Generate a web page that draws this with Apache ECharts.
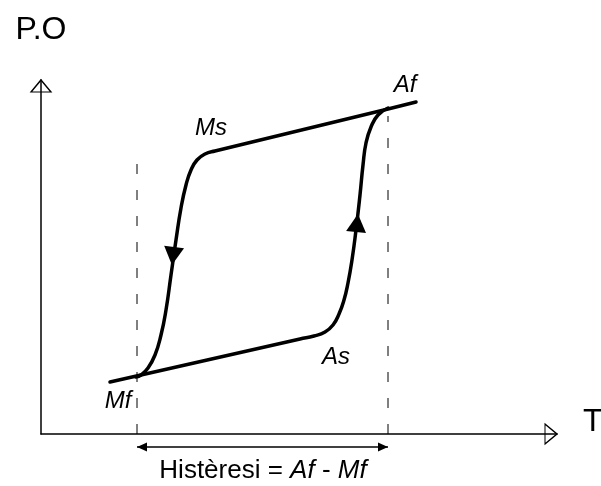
<!DOCTYPE html>
<html>
<head>
<meta charset="utf-8">
<script src="https://cdn.jsdelivr.net/npm/echarts@6/dist/echarts.min.js"></script>
<style>
  html, body { margin: 0; padding: 0; background: #fff; }
  #chart { width: 601px; height: 486px; }
</style>
</head>
<body>
<div id="chart"></div>
<script>
// Heating branch: Mf line -> As -> steep rise -> Af
const heatT  = [69, 259, 273, 284, 292, 298, 303, 307, 311, 315, 319, 322, 325, 330, 337, 347];
const heatPO = [52, 95, 98, 102, 109, 120, 134, 151, 174, 204, 239, 269, 291, 307, 319, 326];

// Cooling branch: beyond Af -> Ms -> steep drop -> Mf
const coolT  = [375, 347, 174, 164, 156, 150, 145, 140, 135, 130, 125, 120, 114, 107, 100, 95];
const coolPO = [332, 325, 283, 280, 274, 264, 249, 226, 194, 159, 124, 99, 79, 66, 59, 57];

// Transformation temperatures marked with dashed guides (Mf, Af)
const guideT   = [96, 347];
const guideTop = [272, 318];

// Point labels
const pointNames = ['Ms', 'Af', 'As', 'Mf'];
const pointT     = [170, 364, 295, 77];
const pointPO    = [306, 349, 77, 33];

// Direction arrows on the two branches (down while cooling, up while heating)
const dirT     = [132, 316];
const dirPO    = [178, 211];
const dirAngle = [173, -6];

// Hysteresis span below the axis
const spanPO = -13;

const FONT = '"Liberation Sans", Arial, sans-serif';
const zip = (a, b) => a.map((v, i) => [v, b[i]]);

const chart = echarts.init(document.getElementById('chart'), null, { renderer: 'canvas' });

const option = {
  animation: false,
  backgroundColor: '#fff',
  grid: { left: 41, top: 80, width: 516, height: 354, containLabel: false, outerBoundsMode: 'none' },
  xAxis: {
    type: 'value', min: 0, max: 516,
    name: 'T', nameLocation: 'end', nameGap: 26,
    nameTextStyle: { fontSize: 32, color: '#000', fontFamily: FONT, align: 'left', verticalAlign: 'bottom', lineHeight: 24 },
    axisLine: { show: true, onZero: false, lineStyle: { color: '#000', width: 1.5 } },
    axisTick: { show: false }, axisLabel: { show: false }, splitLine: { show: false }
  },
  yAxis: {
    type: 'value', min: 0, max: 354,
    name: 'P.O', nameLocation: 'end', nameGap: 38,
    nameTextStyle: { fontSize: 32, color: '#000', fontFamily: FONT, align: 'center', verticalAlign: 'bottom', lineHeight: 24 },
    axisLine: { show: true, onZero: false, lineStyle: { color: '#000', width: 1.5 } },
    axisTick: { show: false }, axisLabel: { show: false }, splitLine: { show: false }
  },
  graphic: [{
    type: 'text', x: 263, y: 471,
    style: {
      text: '{n|Histèresi = }{i|Af}{n| - }{i|Mf}',
      align: 'center', verticalAlign: 'middle',
      rich: {
        n: { fontSize: 26, fontFamily: FONT, fill: '#000' },
        i: { fontSize: 26, fontFamily: FONT, fontStyle: 'italic', fill: '#000' }
      }
    }
  }],
  series: [
    // dashed guides at Mf and Af
    ...guideT.map((t, i) => ({
      type: 'line', clip: false, symbol: 'none', silent: true,
      data: [[t, 0], [t, guideTop[i]]],
      lineStyle: { color: '#000', width: 1, type: [10, 16] },
      z: 1
    })),
    {
      type: 'line', name: 'heating', clip: false, symbol: 'none',
      smooth: 0.5,
      data: zip(heatT, heatPO),
      lineStyle: { color: '#000', width: 3.5, cap: 'round', join: 'round' },
      z: 3
    },
    {
      type: 'line', name: 'cooling', clip: false, symbol: 'none',
      smooth: 0.5,
      data: zip(coolT, coolPO),
      lineStyle: { color: '#000', width: 3.5, cap: 'round', join: 'round' },
      z: 3
    },
    // direction arrowheads
    {
      type: 'scatter', clip: false, symbol: 'triangle', symbolSize: [20, 18],
      data: dirT.map((t, i) => ({ value: [t, dirPO[i]], symbolRotate: dirAngle[i] })),
      itemStyle: { color: '#000', opacity: 1 },
      z: 4
    },
    // hysteresis span: shaft
    {
      type: 'line', clip: false, symbol: 'none', silent: true,
      data: [[guideT[0], spanPO], [guideT[1], spanPO]],
      lineStyle: { color: '#000', width: 1.5 },
      z: 2
    },
    // hysteresis span: arrowheads (centred half a head inside each end)
    {
      type: 'scatter', clip: false, symbol: 'triangle', silent: true,
      data: [
        { value: [guideT[0] + 5, spanPO], symbolRotate: 90 },
        { value: [guideT[1] - 5, spanPO], symbolRotate: -90 }
      ],
      symbolSize: [9, 10],
      itemStyle: { color: '#000', opacity: 1 },
      z: 2
    },
    // open arrowheads at the axis ends
    {
      type: 'scatter', clip: false, symbol: 'triangle', silent: true,
      data: [
        { value: [0, 348], symbolSize: [20, 12], symbolRotate: 0 },
        { value: [510, 0], symbolSize: [20, 12], symbolRotate: -90 }
      ],
      itemStyle: { color: 'rgba(255,255,255,0)', borderColor: '#000', borderWidth: 1.3, opacity: 1 },
      z: 5
    },
    // point labels
    {
      type: 'scatter', clip: false, symbolSize: 0, silent: true,
      data: pointNames.map((n, i) => ({ name: n, value: [pointT[i], pointPO[i]] })),
      itemStyle: { opacity: 1 },
      label: {
        show: true, position: 'inside', formatter: p => p.name,
        fontSize: 24, fontStyle: 'italic', fontFamily: FONT, color: '#000'
      },
      z: 6
    }
  ]
};

chart.setOption(option);
</script>
</body>
</html>
